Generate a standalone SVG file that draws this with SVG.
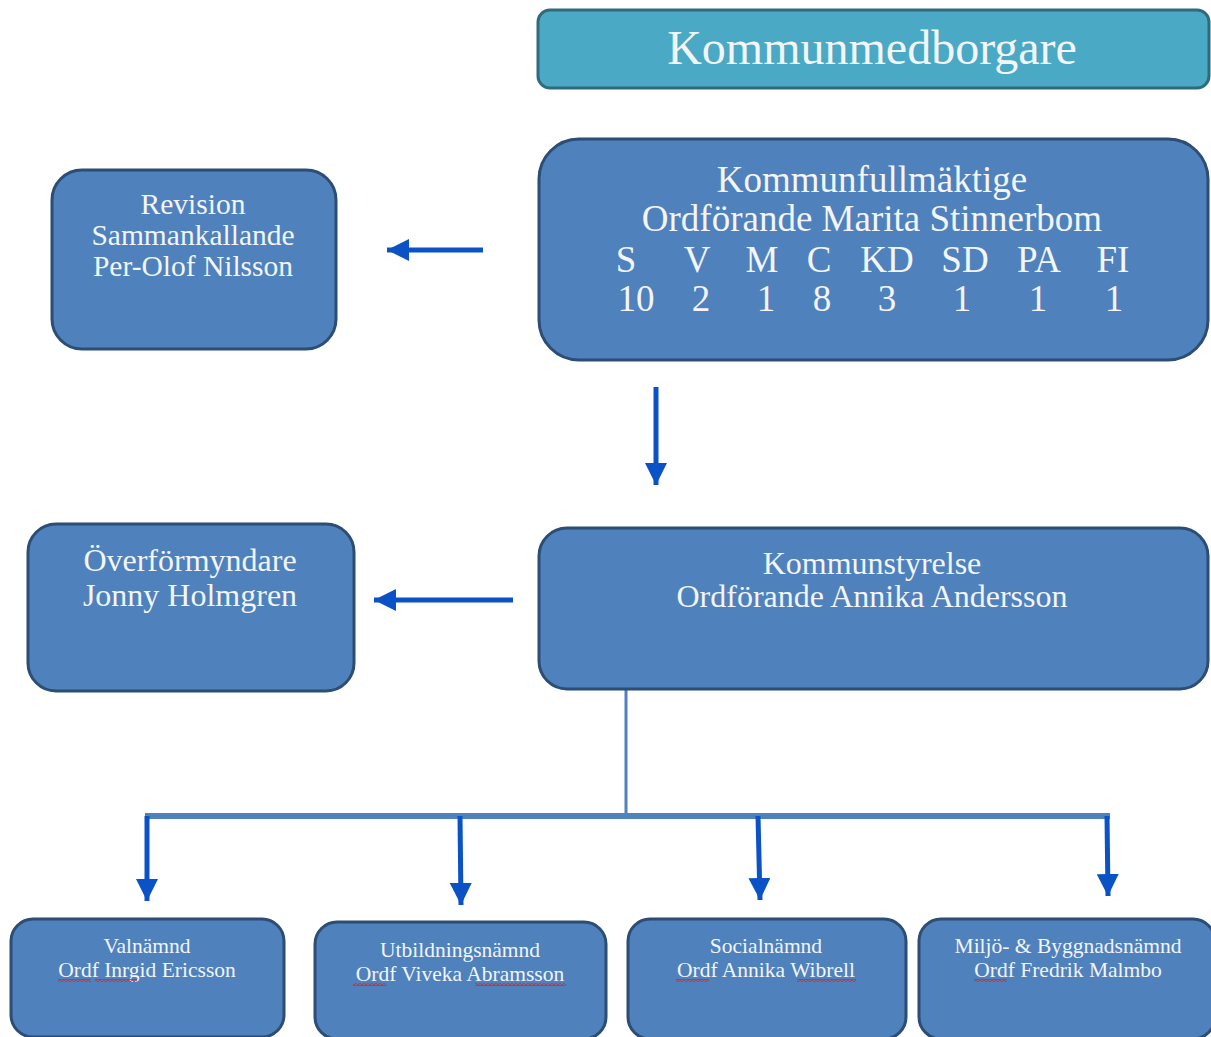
<svg xmlns="http://www.w3.org/2000/svg" width="1211" height="1037" viewBox="0 0 1211 1037">
<style>
.box{fill:#4f81bd;stroke:#2c4d74;stroke-width:3}
.top{fill:#4aaac5;stroke:#2f6b7c;stroke-width:3}
text{font-family:"Liberation Serif","Times New Roman",serif;fill:#f3f5f9;text-anchor:middle}
.arr{stroke:#0a52c6;stroke-width:5;fill:none}
.trunk{stroke:#4f81bd;fill:none}
.sq{fill:url(#zig)}
</style>
<defs>
<marker id="ah" markerUnits="userSpaceOnUse" markerWidth="24" markerHeight="22" refX="22" refY="11" orient="auto">
<path d="M0,0 L22,11 L0,22 Z" fill="#0a52c6"/>
</marker>
<pattern id="zig" patternUnits="userSpaceOnUse" width="4" height="3">
<path d="M0,2.5 L2,0.5 L4,2.5" stroke="#e02828" stroke-width="1.3" fill="none"/>
</pattern>
</defs>
<rect width="1211" height="1037" fill="#ffffff"/>

<g id="connectors">
<line class="arr" x1="483" y1="250" x2="387" y2="250" marker-end="url(#ah)"/>
<line class="arr" x1="656" y1="387" x2="656" y2="485" marker-end="url(#ah)"/>
<line class="arr" x1="513" y1="600" x2="374" y2="600" marker-end="url(#ah)"/>
<line class="trunk" x1="626" y1="689" x2="626" y2="816" stroke-width="3"/>
<line class="trunk" x1="145" y1="816" x2="1110" y2="816" stroke-width="6"/>
<line class="arr" x1="147" y1="816" x2="147" y2="901" marker-end="url(#ah)"/>
<line class="arr" x1="460" y1="816" x2="461" y2="905" marker-end="url(#ah)"/>
<line class="arr" x1="758" y1="816" x2="760" y2="900" marker-end="url(#ah)"/>
<line class="arr" x1="1107" y1="816" x2="1108" y2="896" marker-end="url(#ah)"/>
</g>

<g id="kommunmedborgare">
<rect class="top" x="538" y="10" width="671" height="78" rx="12"/>
<text x="872" y="64" font-size="48">Kommunmedborgare</text>
</g>

<g id="kommunfullmaktige">
<rect class="box" x="539" y="139" width="669" height="221" rx="40"/>
<text x="872" y="192" font-size="37">Kommunfullmäktige</text>
<text x="872" y="231" font-size="37">Ordförande Marita Stinnerbom</text>
<g font-size="37">
<text x="626" y="272">S</text><text x="697" y="272">V</text><text x="762" y="272">M</text><text x="819" y="272">C</text>
<text x="887" y="272">KD</text><text x="965" y="272">SD</text><text x="1039" y="272">PA</text><text x="1113" y="272">FI</text>
<text x="636" y="311">10</text><text x="701" y="311">2</text><text x="766" y="311">1</text><text x="822" y="311">8</text>
<text x="887" y="311">3</text><text x="962" y="311">1</text><text x="1038" y="311">1</text><text x="1114" y="311">1</text>
</g>
</g>

<g id="revision">
<rect class="box" x="52" y="170" width="284" height="179" rx="30"/>
<text x="193" y="214" font-size="29.5">Revision</text>
<text x="193" y="245" font-size="29.5">Sammankallande</text>
<text x="193" y="276" font-size="29.5">Per-Olof Nilsson</text>
</g>

<g id="overformyndare">
<rect class="box" x="28" y="524" width="326" height="167" rx="28"/>
<text x="190" y="571" font-size="32">Överförmyndare</text>
<text x="190" y="606" font-size="32">Jonny Holmgren</text>
</g>

<g id="kommunstyrelse">
<rect class="box" x="539" y="528" width="669" height="161" rx="28"/>
<text x="872" y="574" font-size="32">Kommunstyrelse</text>
<text x="872" y="607" font-size="32">Ordförande Annika Andersson</text>
</g>

<g id="valnamnd">
<rect class="box" x="11" y="919" width="273" height="118" rx="22"/>
<text x="147" y="953" font-size="21.5">Valnämnd</text>
<text x="147" y="977" font-size="21.5">Ordf Inrgid Ericsson</text>
<rect class="sq" x="58" y="979" width="33" height="3"/>
<rect class="sq" x="95" y="979" width="42" height="3"/>
</g>

<g id="utbildningsnamnd">
<rect class="box" x="315" y="922" width="291" height="117" rx="22"/>
<text x="460" y="957" font-size="21.5">Utbildningsnämnd</text>
<text x="460" y="981" font-size="21.5">Ordf Viveka Abramsson</text>
<rect class="sq" x="353" y="983" width="33" height="3"/>
<rect class="sq" x="475" y="983" width="91" height="3"/>
</g>

<g id="socialnamnd">
<rect class="box" x="628" y="919" width="278" height="120" rx="22"/>
<text x="766" y="953" font-size="21.5">Socialnämnd</text>
<text x="766" y="977" font-size="21.5">Ordf Annika Wibrell</text>
<rect class="sq" x="676" y="979" width="33" height="3"/>
<rect class="sq" x="797" y="979" width="59" height="3"/>
</g>

<g id="miljonamnd">
<rect class="box" x="919" y="919" width="296" height="120" rx="22"/>
<text x="1068" y="953" font-size="21.5">Miljö- &amp; Byggnadsnämnd</text>
<text x="1068" y="977" font-size="21.5">Ordf Fredrik Malmbo</text>
<rect class="sq" x="974" y="979" width="33" height="3"/>
</g>
</svg>
